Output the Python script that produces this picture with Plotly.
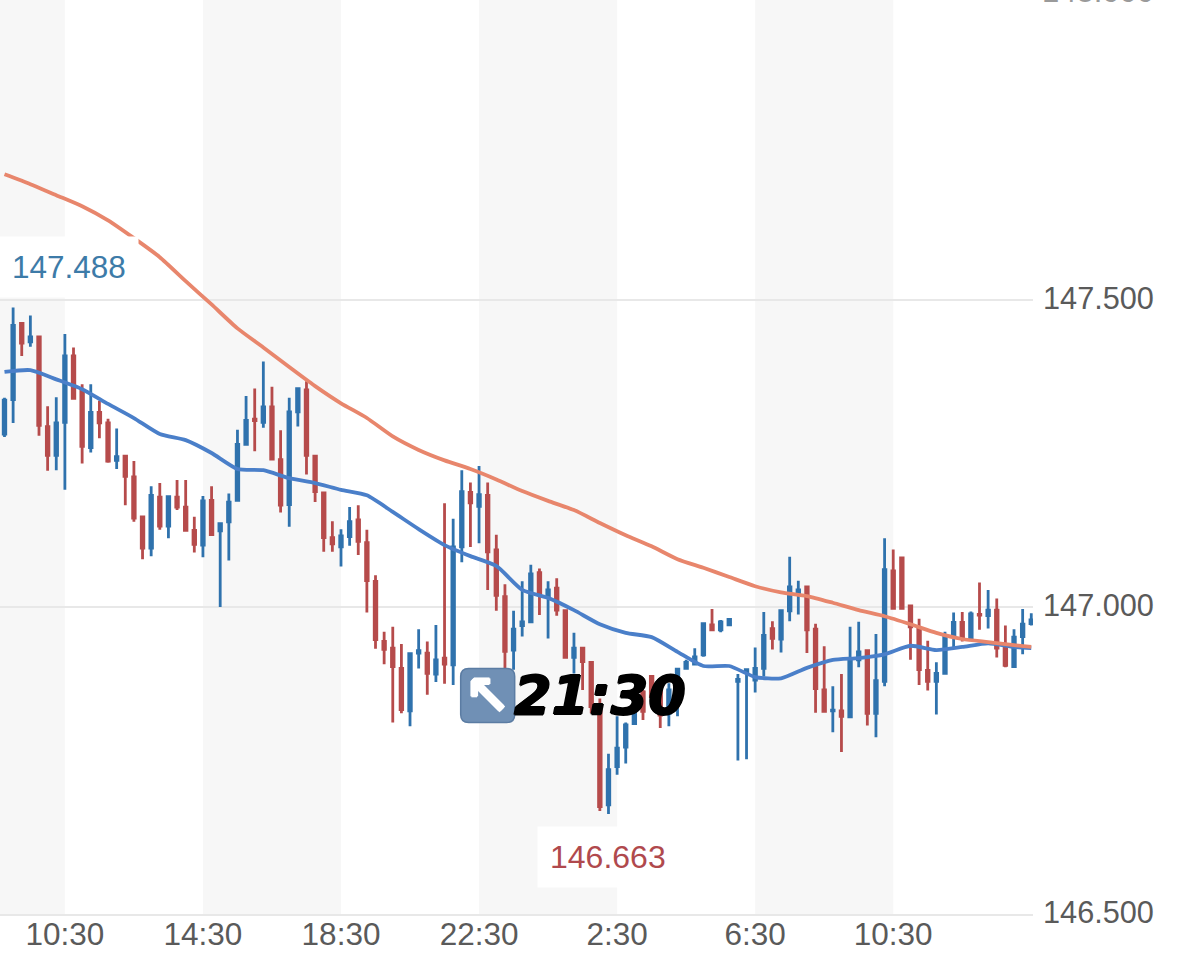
import plotly.graph_objects as go

#15 minute candles, index 0 is the first one on the left
opens = [147.282, 147.338, 147.462, 147.432, 147.440, 147.294, 147.247, 147.301, 147.409, 147.353,
         147.260, 147.317, 147.300, 147.239, 147.246, 147.212, 147.147, 147.096, 147.179, 147.132,
         147.179, 147.163, 147.125, 147.101, 147.174, 147.124, 147.139, 147.174, 147.265, 147.306,
         147.301, 147.326, 147.240, 147.167, 147.318, 147.354, 147.246, 147.186, 147.113, 147.098,
         147.115, 147.142, 147.105, 147.042, 146.944, 146.933, 146.900, 146.831, 146.925, 146.925,
         146.891, 146.917, 146.906, 147.098, 147.187, 147.164, 147.182, 147.093, 147.017, 146.930,
         146.970, 146.976, 147.056, 147.017, 147.031, 146.994, 146.918, 146.933, 146.910, 146.838,
         146.678, 146.740, 146.772, 146.810, 146.862, 146.887, 146.865, 146.827, 146.843, 146.900,
         146.907, 146.922, 146.971, 146.963, 146.971, 146.879, 146.895, 146.881, 146.900, 146.965,
         146.948, 146.994, 147.021, 147.033, 146.964, 146.865, 146.831, 146.831, 146.821, 146.914,
         146.929, 146.827, 146.879, 147.059, 147.080, 147.002, 146.965, 146.897, 146.879, 146.892,
         146.955, 146.975, 146.949, 146.988, 146.986, 146.995, 146.936, 146.903, 146.952, 146.973]
highs = [147.341, 147.488, 147.463, 147.475, 147.440, 147.327, 147.342, 147.445, 147.423, 147.363,
         147.363, 147.336, 147.307, 147.291, 147.247, 147.238, 147.149, 147.197, 147.202, 147.182,
         147.207, 147.207, 147.147, 147.181, 147.197, 147.138, 147.185, 147.289, 147.344, 147.356,
         147.400, 147.359, 147.288, 147.341, 147.356, 147.368, 147.246, 147.186, 147.140, 147.127,
         147.163, 147.166, 147.126, 147.052, 146.960, 146.968, 146.940, 146.924, 146.964, 146.944,
         146.971, 147.169, 147.144, 147.223, 147.203, 147.230, 147.203, 147.118, 147.037, 146.994,
         147.042, 147.069, 147.063, 147.042, 147.047, 146.995, 146.958, 146.934, 146.911, 146.851,
         146.761, 146.822, 146.812, 146.838, 146.865, 146.888, 146.876, 146.876, 146.900, 146.914,
         146.933, 146.975, 146.997, 146.979, 146.981, 146.891, 146.899, 146.934, 146.992, 146.977,
         146.994, 147.082, 147.043, 147.033, 146.973, 146.936, 146.871, 146.891, 146.968, 146.976,
         146.930, 146.956, 147.112, 147.094, 147.080, 147.002, 146.981, 146.945, 146.910, 146.960,
         146.991, 146.992, 146.993, 147.040, 147.028, 147.014, 146.970, 146.964, 146.997, 146.990]
lows = [147.277, 147.300, 147.409, 147.424, 147.279, 147.222, 147.223, 147.191, 147.340, 147.234,
        147.252, 147.275, 147.235, 147.225, 147.166, 147.139, 147.078, 147.083, 147.126, 147.112,
        147.158, 147.124, 147.089, 147.081, 147.117, 147.000, 147.076, 147.174, 147.265, 147.254,
        147.292, 147.241, 147.154, 147.131, 147.294, 147.216, 147.171, 147.090, 147.090, 147.066,
        147.100, 147.085, 146.991, 146.932, 146.907, 146.812, 146.827, 146.806, 146.900, 146.857,
        146.878, 146.875, 146.873, 147.073, 147.098, 147.104, 147.028, 146.994, 146.898, 146.898,
        146.952, 146.975, 146.987, 146.949, 146.986, 146.917, 146.892, 146.865, 146.827, 146.668,
        146.663, 146.727, 146.745, 146.810, 146.816, 146.838, 146.803, 146.806, 146.822, 146.900,
        146.906, 146.919, 146.961, 146.959, 146.970, 146.750, 146.752, 146.861, 146.887, 146.931,
        146.926, 146.977, 146.988, 146.925, 146.828, 146.828, 146.796, 146.764, 146.821, 146.902,
        146.807, 146.788, 146.871, 146.998, 146.997, 146.914, 146.873, 146.864, 146.825, 146.891,
        146.935, 146.944, 146.948, 146.963, 146.965, 146.918, 146.902, 146.902, 146.923, 146.970]
closes = [147.337, 147.459, 147.430, 147.440, 147.296, 147.247, 147.300, 147.409, 147.340, 147.262,
          147.317, 147.300, 147.238, 147.245, 147.213, 147.145, 147.096, 147.182, 147.132, 147.180,
          147.163, 147.125, 147.102, 147.173, 147.118, 147.136, 147.171, 147.265, 147.304, 147.304,
          147.326, 147.241, 147.166, 147.318, 147.356, 147.247, 147.188, 147.113, 147.103, 147.116,
          147.139, 147.107, 147.043, 146.947, 146.931, 146.903, 146.833, 146.924, 146.929, 146.892,
          146.914, 146.907, 147.098, 147.188, 147.170, 147.183, 147.090, 147.019, 146.928, 146.964,
          146.976, 147.054, 147.020, 147.028, 146.995, 146.918, 146.933, 146.911, 146.838, 146.675,
          146.735, 146.770, 146.808, 146.830, 146.830, 146.854, 146.824, 146.865, 146.899, 146.910,
          146.919, 146.973, 146.963, 146.976, 146.980, 146.882, 146.898, 146.900, 146.954, 146.949,
          146.994, 147.033, 147.028, 146.963, 146.867, 146.830, 146.832, 146.822, 146.914, 146.927,
          146.827, 146.880, 147.061, 146.998, 146.998, 146.968, 146.898, 146.879, 146.892, 146.952,
          146.975, 146.951, 146.989, 146.987, 146.995, 146.933, 146.905, 146.951, 146.972, 146.979]

#moving averages, read every third candle
ma_index = [0, 3, 6, 9, 12, 15, 18, 21, 24, 27, 30, 33, 36, 39, 42, 45, 48, 51, 54, 57,
            60, 63, 66, 69, 72, 75, 78, 81, 84, 87, 90, 93, 96, 99, 102, 105, 108, 111, 114, 117, 119]
ma_slow = [147.705, 147.689, 147.671, 147.653, 147.630, 147.601, 147.570, 147.531, 147.493, 147.454,
           147.423, 147.391, 147.360, 147.332, 147.308, 147.278, 147.256, 147.239, 147.225, 147.208,
           147.189, 147.173, 147.158, 147.137, 147.117, 147.099, 147.078, 147.064, 147.049, 147.034,
           147.024, 147.018, 147.007, 146.995, 146.985, 146.972, 146.958, 146.948, 146.943, 146.938, 146.935]
ma_fast = [147.383, 147.386, 147.371, 147.355, 147.331, 147.308, 147.282, 147.272, 147.251, 147.225,
           147.223, 147.210, 147.202, 147.191, 147.182, 147.155, 147.127, 147.101, 147.083, 147.067,
           147.028, 147.015, 146.995, 146.972, 146.958, 146.951, 146.927, 146.904, 146.904, 146.886,
           146.884, 146.901, 146.914, 146.917, 146.923, 146.937, 146.930, 146.935, 146.941, 146.935, 146.933]

tick_index = [7, 23, 39, 55, 71, 87, 103]
tick_labels = ["10:30", "14:30", "18:30", "22:30", "2:30", "6:30", "10:30"]
price_ticks = [146.5, 147.0, 147.5]

BLUE = "#2f72ad"
RED = "#b64b4b"
GREY = "#5a5a5a"
FONT = "Liberation Sans"
GRID = "#e8e8e8"
#thickens the sticker text
HEAVY = "1px 0 0 {c}, -1px 0 0 {c}, 0 1px 0 {c}, 0 -1px 0 {c}"

fig = go.Figure()
fig.add_trace(go.Candlestick(x=list(range(len(opens))), open=opens, high=highs, low=lows, close=closes,
                             increasing=dict(line=dict(color=BLUE, width=2.8), fillcolor=BLUE),
                             decreasing=dict(line=dict(color=RED, width=2.8), fillcolor=RED),
                             hoverinfo="skip"))
fig.add_trace(go.Scatter(x=ma_index, y=ma_fast, mode="lines", hoverinfo="skip",
                         line=dict(color="#4a7fc9", width=3.8, shape="spline", smoothing=0.6)))
fig.add_trace(go.Scatter(x=ma_index, y=ma_slow, mode="lines", hoverinfo="skip",
                         line=dict(color="#e8866c", width=3.8, shape="spline", smoothing=0.6)))

#alternating session bands
for start, end in [(-1, 7), (23, 39), (55, 71), (87, 103)]:
    fig.add_shape(type="rect", xref="x", yref="paper", x0=start, x1=end, y0=0, y1=1,
                  fillcolor="#f7f7f7", line_width=0, layer="below")

#high and low labels with their white boxes
hi = highs.index(max(highs))
lo = lows.index(min(lows))
fig.add_annotation(x=hi, y=highs[hi], text=f"{highs[hi]:.3f}", showarrow=False, xshift=56, yshift=41,
                   font=dict(family=FONT, size=31.5, color="#3d7ba8"), bgcolor="white", borderpad=12)
fig.add_annotation(x=lo, y=lows[lo], text=f"{lows[lo]:.3f}", showarrow=False, yshift=-43,
                   font=dict(family=FONT, size=32, color="#b0494d"), bgcolor="white", borderpad=12)

#cut off price label at the very top of the picture
fig.add_annotation(xref="paper", yref="paper", x=1, y=1, xanchor="left", yanchor="middle", xshift=7, yshift=9,
                   text="148.000", showarrow=False, font=dict(family=FONT, size=31, color="#9a9a9a"))

#sticker pasted over the chart
fig.add_shape(type="path", xref="x", yref="y", xsizemode="pixel", ysizemode="pixel", xanchor=56, yanchor=146.856,
              path="M -19 -27 L 19 -27 Q 27 -27 27 -19 L 27 19 Q 27 27 19 27 L -19 27 Q -27 27 -27 19 L -27 -19 Q -27 -27 -19 -27 Z",
              fillcolor="#7090b5", line=dict(color="#5b7ca3", width=1.5), layer="above")
fig.add_annotation(x=56, y=146.856, text="↖", showarrow=False,
                   font=dict(family="DejaVu Sans", size=56, color="white", weight="bold",
                             shadow=HEAVY.format(c="white")))
fig.add_annotation(x=56, y=146.856, text="21:30", showarrow=False, xanchor="left", xshift=24,
                   font=dict(family="DejaVu Sans", size=54, color="black", weight="bold", style="italic",
                             shadow=HEAVY.format(c="black")))

fig.update_layout(width=1178, height=966, showlegend=False, plot_bgcolor="white", paper_bgcolor="white",
                  margin=dict(l=0, r=145, t=0, b=52), boxgap=0.58,
                  font=dict(family=FONT, color=GREY))
fig.update_xaxes(range=[-0.52, 119.2], rangeslider_visible=False, showgrid=False, zeroline=False,
                 tickmode="array", tickvals=tick_index, ticktext=tick_labels,
                 tickfont=dict(family=FONT, size=31.5, color=GREY), ticks="",
                 showline=True, linecolor=GRID, linewidth=2, ticklabelstandoff=-9)
fig.update_yaxes(range=[146.5, 147.989], side="right", tickmode="array", tickvals=price_ticks,
                 tickformat=".3f", tickfont=dict(family=FONT, size=30.7, color=GREY),
                 gridcolor=GRID, gridwidth=2, zeroline=False, showline=False, ticks="",
                 ticklabelstandoff=9, ticklabelshift=-2)

fig.write_html("out.html", config=dict(displayModeBar=False),
               post_script="document.body.style.margin='0';window.dispatchEvent(new Event('resize'));")
